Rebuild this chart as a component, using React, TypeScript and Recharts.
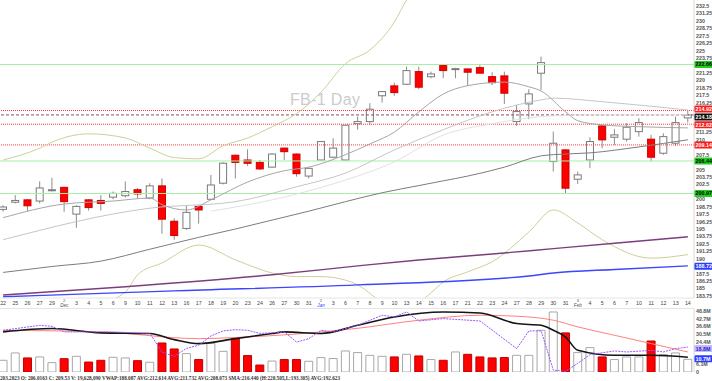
import React from 'react';
import { ComposedChart, Bar, Line, XAxis, YAxis, ReferenceLine, Cell } from 'recharts';

// trading days, Nov 22 2019 .. Feb 14 2020
const dates = [
  'Nov 22', 'Nov 25', 'Nov 26', 'Nov 27', 'Nov 29',
  'Dec 2', 'Dec 3', 'Dec 4', 'Dec 5', 'Dec 6', 'Dec 9', 'Dec 10', 'Dec 11', 'Dec 12', 'Dec 13',
  'Dec 16', 'Dec 17', 'Dec 18', 'Dec 19', 'Dec 20', 'Dec 23', 'Dec 24', 'Dec 26', 'Dec 27', 'Dec 30', 'Dec 31',
  'Jan 2', 'Jan 3', 'Jan 6', 'Jan 7', 'Jan 8', 'Jan 9', 'Jan 10', 'Jan 13', 'Jan 14', 'Jan 15',
  'Jan 16', 'Jan 17', 'Jan 21', 'Jan 22', 'Jan 23', 'Jan 24', 'Jan 27', 'Jan 28', 'Jan 29', 'Jan 30', 'Jan 31',
  'Feb 3', 'Feb 4', 'Feb 5', 'Feb 6', 'Feb 7', 'Feb 10', 'Feb 11', 'Feb 12', 'Feb 13', 'Feb 14',
];

const opens = [198.3, 199.5, 199.9, 199.7, 201.5, 202.0, 197.5, 199.9, 199.8, 200.35,
  200.6, 201.6, 200.2, 202.25, 196.3, 195.1, 198.8, 200.0, 202.7, 207.4,
  206.6, 206.2, 205.4, 208.6, 207.6, 203.9, 206.6, 207.07, 206.6, 212.7,
  213.06, 217.4, 219.06, 219.34, 221.46, 220.6, 222.47, 221.86, 221.91, 222.13,
  220.62, 220.74, 213.06, 216.03, 221.19, 206.34, 208.3, 203.37, 206.6, 212.33,
  210.43, 210.1, 211.37, 210.1, 207.74, 209.42, 213.68];
const highs = [199.0, 200.7, 200.0, 203.0, 203.6, 202.1, 199.0, 200.0, 200.7, 201.3,
  203.0, 201.9, 202.7, 203.5, 196.8, 198.9, 198.9, 204.1, 206.2, 207.5,
  208.4, 206.6, 207.7, 208.7, 207.7, 205.3, 209.8, 210.26, 212.5, 213.9,
  216.15, 218.2, 219.6, 222.3, 222.3, 221.46, 222.6, 222.1, 222.0, 222.58,
  221.36, 221.46, 215.86, 218.5, 223.98, 211.37, 208.4, 204.65, 210.43, 212.5,
  211.78, 212.8, 213.63, 210.82, 211.1, 213.9, 215.0];
const lows = [197.9, 199.3, 198.0, 199.3, 201.3, 197.9, 195.2, 198.1, 198.1, 200.0,
  200.3, 200.2, 200.0, 194.2, 193.2, 194.85, 195.9, 199.9, 202.5, 203.5,
  205.6, 204.9, 205.3, 206.6, 203.8, 203.5, 206.5, 206.9, 206.5, 211.7,
  212.5, 216.25, 217.4, 219.2, 218.5, 220.35, 220.35, 220.35, 219.06, 221.1,
  219.2, 216.03, 212.33, 213.46, 218.4, 204.65, 201.02, 202.58, 205.22, 208.58,
  209.14, 209.7, 210.53, 206.34, 207.46, 208.97, 212.9];
const closes = [198.7, 199.8, 198.9, 201.9, 201.6, 199.6, 198.8, 198.6, 199.3, 201.0,
  201.3, 200.9, 202.25, 196.65, 193.9, 197.8, 198.2, 202.4, 206.06, 206.2,
  206.05, 205.1, 207.6, 208.0, 204.3, 205.2, 209.7, 208.6, 212.45, 213.06,
  215.14, 218.1, 217.93, 221.63, 218.84, 221.07, 221.63, 221.96, 221.36, 221.2,
  219.6, 217.83, 214.74, 217.71, 222.97, 209.42, 201.86, 204.1, 209.7, 209.98,
  210.82, 212.11, 212.89, 207.07, 210.53, 212.89, 214.18];
// volume, millions
const volumes = [9.4, 15.3, 11.3, 12.1, 7.5, 10.7, 12.6, 8.0, 9.4, 11.8,
  11.3, 9.1, 7.8, 23.3, 18.5, 14.8, 10.0, 23.0, 16.6, 26.8,
  13.2, 5.6, 8.8, 10.0, 10.0, 8.6, 11.6, 10.8, 16.9, 15.6,
  13.4, 12.6, 12.1, 14.2, 12.9, 10.0, 9.4, 16.1, 14.2, 12.1,
  11.3, 11.6, 13.4, 13.4, 33.5, 48.2, 31.4, 15.6, 19.6, 12.1,
  10.0, 12.1, 12.1, 24.9, 14.0, 15.3, 10.2];

// overlay studies, read at some of the days (index -> value)
const maFast: Record<number, number> = { 0: 196.9, 5: 199.2, 9: 199.7, 12: 200.2, 13: 199.1, 15: 198.2, 17: 199.9, 20: 202.9, 23: 204.8, 25: 205.4, 28: 207.5, 30: 209.3, 32: 211.3, 34: 214.7, 36: 217.7, 38: 219.1, 41: 219.7, 43: 218.9, 44: 218.2, 46: 214.7, 47: 213.2, 49: 212.5, 52: 212.2, 56: 212.0 };
const maMid: Record<number, number> = { 0: 193.2, 12: 198.5, 19: 199.6, 24: 202.1, 28: 204.4, 32: 208.3, 36: 211.7, 40: 214.7, 44: 216.7, 45: 217.0, 49: 216.4, 56: 215.0 };
const maSlowLight: Record<number, number> = { 17: 198.0, 22: 199.9, 27: 202.6, 32: 206.3, 36: 210.8, 40: 212.7, 44: 213.9, 48: 214.2, 56: 214.2 };
const sma: Record<number, number> = { 0: 187.7, 4: 188.7, 8: 189.6, 12: 191.6, 16: 193.6, 19: 195.0, 22: 196.5, 25: 198.0, 28: 199.6, 31: 201.1, 34: 202.3, 36: 203.1, 38: 203.9, 41: 205.4, 44: 207.3, 45: 207.5, 48: 207.8, 52: 208.8, 56: 210.0 };
const avgPurple: Record<number, number> = { 0: 183.9, 10: 185.3, 22: 187.3, 29: 188.8, 34: 189.8, 40: 190.8, 45: 191.7, 50: 192.6, 56: 193.7 };
const vwap: Record<number, number> = { 0: 183.6, 14: 184.6, 29: 185.6, 43: 187.1, 45: 187.6, 50: 188.2, 56: 188.8 };
const bandUpper: Record<number, number> = { 0: 206.6, 3: 208.6, 4: 209.6, 7: 211.0, 10: 210.3, 12: 208.6, 14: 207.0, 16: 206.8, 18: 209.0, 20: 210.3, 22: 212.2, 24: 214.4, 26: 218.0, 28: 222.8, 30: 225.1, 32: 229.8, 33: 233.5, 35: 237, 40: 240, 45: 240, 50: 239, 56: 238 };
const bandLower: Record<number, number> = { 0: 182.3, 3: 181.8, 5: 181.6, 8: 182.6, 10: 184.4, 11: 187.3, 13: 189.3, 16: 192.3, 19: 189.8, 20: 189.0, 22: 187.6, 24: 187.0, 26: 187.0, 28: 186.4, 29: 185.6, 31: 182.6, 32: 181.4, 33: 181.4, 35: 184.3, 36: 186.1, 38: 187.8, 40: 189.5, 43: 194.5, 45: 198.2, 47: 196.0, 49: 193.2, 53: 190.1, 56: 190.7 };

// volume pane studies (volume scale, millions)
const volAvgBlack: Record<number, number> = { 0: 32.2, 4: 34.9, 8: 31.4, 12: 30.9, 14: 26.0, 16: 22.8, 19: 26.8, 22: 30.9, 23: 32.2, 26: 30.9, 29: 37.5, 32: 44.2, 36: 48.2, 39: 47.4, 42: 38.9, 44: 37.5, 45: 33.5, 46: 28.1, 47: 17.4, 50: 13.4, 53: 13.4, 56: 11.8 };
const volAvgRed: Record<number, number> = { 0: 33.5, 8: 32.2, 16: 26.8, 19: 27.7, 29: 35.1, 34: 41.6, 39: 45.6, 42: 44.8, 45: 41.6, 47: 36.2, 50: 29.5, 53: 22.8, 56: 16.1 };
const volOsc: Record<number, number> = { 0: 33.5, 3: 37.5, 4: 36.7, 5: 32.2, 8: 32.2, 9: 32.2, 12: 31, 13: 16, 14: 12.5, 15: 19, 16: 21.5, 17: 29, 18: 33, 19: 34, 20: 33.5, 21: 31, 22: 31.5, 23: 32.2, 24: 24, 25: 26.8, 26: 33.5, 27: 32.2, 29: 37.5, 31: 45.6, 32: 44.2, 33: 48.2, 34: 41, 36: 42.9, 39: 41, 42: 18.8, 43: 33, 44: 33, 45: 1.5, 46: 0.5, 47: 7, 48: 14, 50: 16.9, 51: 16.1, 53: 17.4, 54: 16.1, 55: 18.8, 56: 20 };

const priceTicks = [232.5, 231.25, 230, 228.75, 227.5, 226.25, 225, 223.75, 221.25, 220, 218.75, 217.5, 216.25,
  211.25, 210, 207.5, 205, 203.75, 202.5, 200, 198.75, 197.5, 196.25, 195, 193.75, 192.5, 191.25, 190,
  187.5, 186.25, 185, 183.75];
const volTicks = [0, 6.1, 24.4, 30.5, 36.6, 42.7, 48.8];

const supportLines = [222.66, 206.44, 200.97];
const alertLines = [
  { value: 214.92, text: '214.92', dy: -1.5 },
  { value: 212.62, text: '212.62', dy: 0.5 },
  { value: 209.14, text: '209.14', dy: 0 },
];
const lastPrice = 214.18;
const vwapLast = 188.72;

const statusText = '203.2023 O: 206.0163 C: 209.53 V: 19,628,090 VWAP:188.087 AVG:212.614 AVG:211.732 AVG:208.073 SMA:216.440  (H:220.505,L:193.305) AVG:192.623';

const rows = dates.map((date, i) => ({
  date,
  open: opens[i],
  high: highs[i],
  low: lows[i],
  close: closes[i],
  vol: volumes[i],
  maFast: maFast[i] ?? null,
  maMid: maMid[i] ?? null,
  maSlowLight: maSlowLight[i] ?? null,
  sma: sma[i] ?? null,
  avgPurple: avgPurple[i] ?? null,
  vwap: vwap[i] ?? null,
  bandUpper: bandUpper[i] ?? null,
  bandLower: bandLower[i] ?? null,
  volAvgBlack: volAvgBlack[i] ?? null,
  volAvgRed: volAvgRed[i] ?? null,
  volOsc: volOsc[i] ?? null,
}));

const FONT = 'Liberation Sans, Arial, sans-serif';

const Candle = (props: any) => {
  const { x, y, width, height, payload } = props;
  if (!payload) return null;
  const { open, close, high, low } = payload;
  const top = Math.min(y, y + height);
  const h = Math.abs(height);
  const k = h / (high - low);
  const yo = top + (high - open) * k;
  const yc = top + (high - close) * k;
  const up = close >= open;
  const cx = x + width / 2;
  return (
    <g>
      <line x1={cx} x2={cx} y1={top} y2={top + h} stroke="#8c8c8c" strokeWidth={1} />
      <rect
        x={x + 0.5}
        y={Math.min(yo, yc)}
        width={width - 1}
        height={Math.max(Math.abs(yo - yc), 1)}
        fill={up ? '#ffffff' : '#ff0000'}
        stroke={up ? '#7a7a7a' : '#cc0000'}
        strokeWidth={1}
      />
    </g>
  );
};

const Tag = (props: any) => {
  const { viewBox, text, bg, fg = '#fff', dy = 0 } = props;
  if (!viewBox) return null;
  const x = viewBox.x + viewBox.width;
  const y = viewBox.y + dy;
  return (
    <g>
      <rect x={x} y={y - 3.5} width={19} height={7} rx={1.5} fill={bg} />
      <text x={x + 1.5} y={y + 2} fontSize={5.4} fontWeight="bold" fill={fg} fontFamily={FONT}>
        {text}
      </text>
    </g>
  );
};

const PriceTick = ({ x, y, payload }: any) => (
  <text x={x + 2} y={y + 2} fontSize={5.3} fontWeight="bold" fill="#555" fontFamily={FONT}>
    {payload.value}
  </text>
);

const VolTick = ({ x, y, payload }: any) => (
  <text x={x + 2} y={y + 2} fontSize={5.3} fontWeight="bold" fill="#555" fontFamily={FONT}>
    {payload.value === 0 ? '0' : `${payload.value}M`}
  </text>
);

const DateTick = ({ x, y, payload }: any) => {
  const i = dates.indexOf(payload.value);
  const [mon, day] = String(payload.value).split(' ');
  const monthStart = i > 0 && dates[i - 1].split(' ')[0] !== mon;
  if (monthStart) {
    return (
      <g>
        <text x={x} y={y + 4} textAnchor="middle" fontSize={4.2} fill="#555" fontFamily={FONT}>{day}</text>
        <text x={x} y={y + 8.5} textAnchor="middle" fontSize={4.6} fontStyle="italic"
          fill={mon === 'Jan' ? '#3344ff' : '#555'} fontFamily={FONT}>{mon}</text>
      </g>
    );
  }
  return (
    <text x={x} y={y + 6.5} textAnchor="middle" fontSize={5.3} fill="#444" fontFamily={FONT}>{day}</text>
  );
};

const lineProps = { dot: false, activeDot: false, connectNulls: true, isAnimationActive: false, legendType: 'none' as const };

const App: React.FC = () => {
  return (
    <div style={{ position: 'absolute', left: 0, top: 0, width: 712, height: 381, overflow: 'hidden', background: '#fff' }}>
      <svg width={712} height={381} style={{ position: 'absolute', left: 0, top: 0 }}>
        <text x={290} y={105} fontSize={16} fill="#cccccc" fontFamily={FONT} textLength={70}>FB-1 Day</text>
        <line x1={0} x2={694} y1={308.5} y2={308.5} stroke="#e4e4e4" />
      </svg>

      <div style={{ position: 'absolute', left: -3, top: 0 }}>
        <ComposedChart width={715} height={309} data={rows} margin={{ top: 0, right: 0, bottom: 0, left: 0 }}>
          <XAxis dataKey="date" interval={0} height={11} tickSize={0} tickMargin={0}
            axisLine={{ stroke: '#e4e4e4' }} tick={<DateTick />} />
          <YAxis orientation="right" width={18} domain={[183.4, 233.5]} allowDataOverflow interval={0}
            ticks={priceTicks} tickSize={0} tickMargin={0} axisLine={{ stroke: '#d8d8d8' }} tick={<PriceTick />} />

          {supportLines.map((v) => (
            <ReferenceLine key={v} y={v} stroke="#a4f0a4" strokeWidth={1}
              label={<Tag text={v.toFixed(2)} bg="#22cc22" fg="#000" />} />
          ))}
          {alertLines.map((a) => (
            <ReferenceLine key={a.value} y={a.value} stroke="#ff3b3b" strokeDasharray="1 1"
              label={<Tag text={a.text} bg="#ff1a1a" dy={a.dy} />} />
          ))}
          <ReferenceLine y={lastPrice} stroke="#8a5050" strokeDasharray="3 2"
            label={<Tag text={lastPrice.toFixed(2)} bg="#111" dy={2} />} />
          <ReferenceLine y={vwapLast} stroke="none" label={<Tag text={vwapLast.toFixed(2)} bg="#2a3cff" />} />

          <Line dataKey="bandUpper" type="monotone" stroke="#cfcf9a" {...lineProps} />
          <Line dataKey="bandLower" type="monotone" stroke="#cfcf9a" {...lineProps} />
          <Line dataKey="maSlowLight" type="monotone" stroke="#e2e2e2" {...lineProps} />
          <Line dataKey="maMid" type="monotone" stroke="#c6c6c6" {...lineProps} />
          <Line dataKey="maFast" type="monotone" stroke="#a6a6a6" {...lineProps} />
          <Line dataKey="sma" type="monotone" stroke="#7c7c7c" {...lineProps} />
          <Line dataKey="avgPurple" type="monotone" stroke="#7a3f7a" strokeWidth={1.4} {...lineProps} />
          <Line dataKey="vwap" type="monotone" stroke="#3c45ff" strokeWidth={1.4} {...lineProps} />

          <Bar dataKey={(d: any) => [d.low, d.high]} barSize={8} shape={<Candle />} isAnimationActive={false} />
        </ComposedChart>
      </div>

      <div style={{ position: 'absolute', left: -3, top: 309 }}>
        <ComposedChart width={715} height={66} data={rows} margin={{ top: 0, right: 0, bottom: 3, left: 0 }}>
          <XAxis dataKey="date" hide />
          <YAxis orientation="right" width={18} domain={[0, 50.6]} allowDataOverflow ticks={volTicks} interval={0}
            tickSize={0} tickMargin={0} axisLine={{ stroke: '#d8d8d8' }} tick={<VolTick />} />
          <Bar dataKey="vol" barSize={8} isAnimationActive={false}>
            {rows.map((r, i) => (
              <Cell key={i} fill={r.close >= r.open ? '#ffffff' : '#ff0000'}
                stroke={r.close >= r.open ? '#a8a8a8' : '#c00000'} />
            ))}
          </Bar>
          <Line dataKey="volAvgRed" type="monotone" stroke="#ff8080" {...lineProps} />
          <Line dataKey="volAvgBlack" type="monotone" stroke="#151515" strokeWidth={1.6} {...lineProps} />
          <Line dataKey="volOsc" type="linear" stroke="#9a55ff" strokeDasharray="2 1" {...lineProps} />
          <ReferenceLine y={18.8} stroke="none" label={<Tag text="18.8M" bg="#c9b6ff" fg="#2030c0" />} />
          <ReferenceLine y={10.7} stroke="none" label={<Tag text="10.7M" bg="#2a3cff" />} />
        </ComposedChart>
      </div>

      <svg width={712} height={10} style={{ position: 'absolute', left: 0, top: 372 }}>
        <text x={0} y={8} fontSize={5.6} fontWeight="bold" fill="#333" fontFamily="Liberation Serif, serif"
          textLength={340} lengthAdjust="spacingAndGlyphs">{statusText}</text>
      </svg>
    </div>
  );
};

export default App;
